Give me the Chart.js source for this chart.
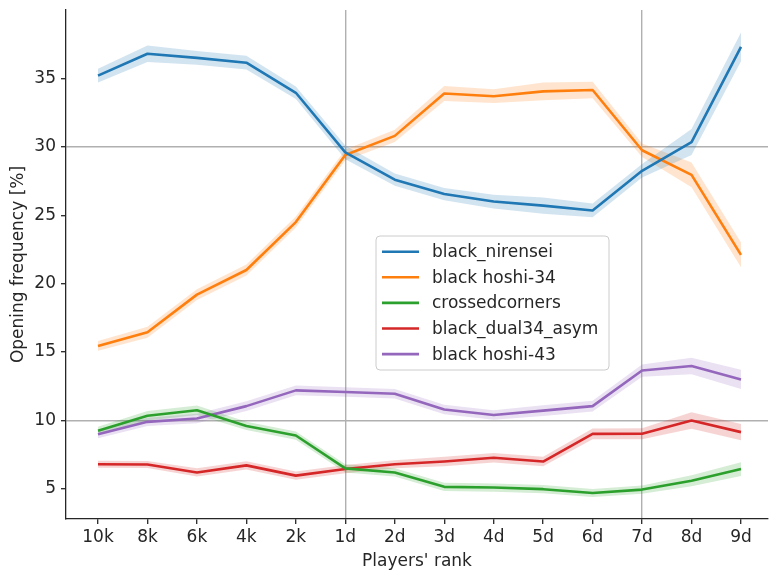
<!DOCTYPE html>
<html>
<head>
<meta charset="utf-8">
<script src="https://cdn.jsdelivr.net/npm/chart.js@4/dist/chart.umd.min.js"></script>
<style>
  html, body { margin: 0; padding: 0; background: #fff; overflow: hidden; }
</style>
</head>
<body>
<canvas id="chart" width="769" height="572"></canvas>
<script>
const ranks = ['10k', '8k', '6k', '4k', '2k', '1d', '2d', '3d', '4d', '5d', '6d', '7d', '8d', '9d'];

const nirensei = [35.2, 36.8, 36.5, 36.15, 33.95, 29.6, 27.6, 26.55, 26.0, 25.7, 25.35, 28.25, 30.35, 37.3];
const hoshi34 = [15.45, 16.45, 19.2, 21.0, 24.5, 29.4, 30.8, 33.9, 33.7, 34.05, 34.15, 29.75, 27.95, 22.1];
const crossed = [9.25, 10.35, 10.75, 9.6, 8.9, 6.5, 6.2, 5.15, 5.1, 4.98, 4.7, 4.95, 5.6, 6.45];
const dual34 = [6.8, 6.78, 6.2, 6.72, 5.97, 6.45, 6.8, 7.0, 7.28, 7.0, 9.02, 9.03, 10.0, 9.15];
const hoshi43 = [9.0, 9.9, 10.15, 11.05, 12.2, 12.08, 11.95, 10.8, 10.4, 10.72, 11.05, 13.65, 13.98, 13.0];

// half-width of the shaded band around each line
const nirenseiErr = [0.5, 0.6, 0.5, 0.5, 0.45, 0.5, 0.45, 0.45, 0.5, 0.6, 0.5, 0.5, 0.95, 1.05];
const hoshi34Err = [0.35, 0.4, 0.4, 0.4, 0.4, 0.4, 0.45, 0.55, 0.5, 0.65, 0.6, 0.5, 0.9, 0.9];
const crossedErr = [0.3, 0.35, 0.35, 0.3, 0.3, 0.3, 0.3, 0.3, 0.3, 0.3, 0.3, 0.3, 0.4, 0.5];
const dual34Err = [0.25, 0.25, 0.3, 0.3, 0.3, 0.3, 0.3, 0.35, 0.35, 0.35, 0.4, 0.4, 0.6, 0.6];
const hoshi43Err = [0.3, 0.3, 0.35, 0.35, 0.35, 0.35, 0.35, 0.35, 0.35, 0.4, 0.4, 0.45, 0.6, 0.7];

const yTicks = [5, 10, 15, 20, 25, 30, 35];
const refY = [10, 30];
const refX = ['1d', '7d'];

const series = [
  { name: 'black_nirensei', values: nirensei, err: nirenseiErr, color: '31,119,180' },
  { name: 'black hoshi-34', values: hoshi34, err: hoshi34Err, color: '255,127,14' },
  { name: 'crossedcorners', values: crossed, err: crossedErr, color: '44,160,44' },
  { name: 'black_dual34_asym', values: dual34, err: dual34Err, color: '214,39,40' },
  { name: 'black hoshi-43', values: hoshi43, err: hoshi43Err, color: '148,103,189' }
];

const FONT = 'DejaVu Sans';
Chart.defaults.font.family = FONT;
Chart.defaults.font.size = 17;
Chart.defaults.color = '#262626';

let datasets = [];
series.forEach(s => {
  datasets.push({
    data: s.values.map((v, i) => ({ x: i, y: v - s.err[i] })),
    borderWidth: 0, pointRadius: 0, fill: false, order: 2
  });
  datasets.push({
    data: s.values.map((v, i) => ({ x: i, y: v + s.err[i] })),
    borderWidth: 0, pointRadius: 0, fill: '-1', order: 2,
    backgroundColor: 'rgba(' + s.color + ',0.2)'
  });
});
series.forEach(s => {
  datasets.push({
    label: s.name,
    data: s.values.map((v, i) => ({ x: i, y: v })),
    borderColor: 'rgb(' + s.color + ')',
    borderWidth: 2.6,
    borderJoinStyle: 'round',
    pointRadius: 0,
    fill: false,
    order: 1
  });
});

const legendBox = {
  id: 'legendBox',
  afterDatasetsDraw(chart) {
    const ctx = chart.ctx;
    const x = 376, y = 236, w = 233, h = 134, r = 4;
    ctx.save();
    ctx.beginPath();
    ctx.moveTo(x + r, y);
    ctx.arcTo(x + w, y, x + w, y + h, r);
    ctx.arcTo(x + w, y + h, x, y + h, r);
    ctx.arcTo(x, y + h, x, y, r);
    ctx.arcTo(x, y, x + w, y, r);
    ctx.closePath();
    ctx.fillStyle = 'rgba(255,255,255,0.8)';
    ctx.fill();
    ctx.strokeStyle = '#cccccc';
    ctx.lineWidth = 1;
    ctx.stroke();
    ctx.font = '17px "' + FONT + '"';
    ctx.textBaseline = 'middle';
    ctx.fillStyle = '#262626';
    series.forEach((s, i) => {
      const cy = y + 15.7 + i * 25.6;
      ctx.strokeStyle = 'rgb(' + s.color + ')';
      ctx.lineWidth = 2.6;
      ctx.beginPath();
      ctx.moveTo(x + 6, cy);
      ctx.lineTo(x + 43, cy);
      ctx.stroke();
      ctx.fillText(s.name, x + 56, cy + 1);
    });
    ctx.restore();
  }
};

new Chart(document.getElementById('chart'), {
  type: 'line',
  data: { datasets: datasets },
  plugins: [legendBox],
  options: {
    responsive: false,
    animation: false,
    devicePixelRatio: 1,
    layout: { padding: { top: 10, right: 1, left: 0, bottom: 0 } },
    plugins: {
      legend: { display: false },
      tooltip: { enabled: false }
    },
    scales: {
      x: {
        type: 'linear',
        min: -0.647,
        max: 13.546,
        afterBuildTicks: axis => { axis.ticks = ranks.map((r, i) => ({ value: i })); },
        afterFit: axis => { axis.height = 53; axis.paddingLeft = 0; axis.paddingRight = 0; },
        ticks: {
          callback: v => ranks[v],
          autoSkip: false,
          maxRotation: 0,
          padding: 3,
          color: '#262626'
        },
        grid: {
          color: ctx => (ctx.tick && refX.includes(ranks[ctx.tick.value])) ? '#b0b0b0' : 'rgba(0,0,0,0)',
          lineWidth: 1.4,
          tickColor: '#262626',
          tickLength: 5,
          tickWidth: 1.3
        },
        border: { display: true, color: '#262626', width: 1.3 },
        title: { display: true, text: "Players' rank", padding: { top: 0, bottom: 0 }, color: '#262626' }
      },
      y: {
        min: 2.8,
        max: 40,
        afterBuildTicks: axis => { axis.ticks = yTicks.map(v => ({ value: v })); },
        afterFit: axis => { axis.width = 66; axis.paddingTop = 0; axis.paddingBottom = 0; },
        ticks: { padding: 5, color: '#262626' },
        grid: {
          color: ctx => (ctx.tick && refY.includes(ctx.tick.value)) ? '#b0b0b0' : 'rgba(0,0,0,0)',
          lineWidth: 1.4,
          tickColor: '#262626',
          tickLength: 5,
          tickWidth: 1.3
        },
        border: { display: true, color: '#262626', width: 1.3 },
        title: { display: true, text: 'Opening frequency [%]', padding: { top: 8, bottom: 0 }, color: '#262626' }
      }
    }
  }
});
</script>
</body>
</html>
